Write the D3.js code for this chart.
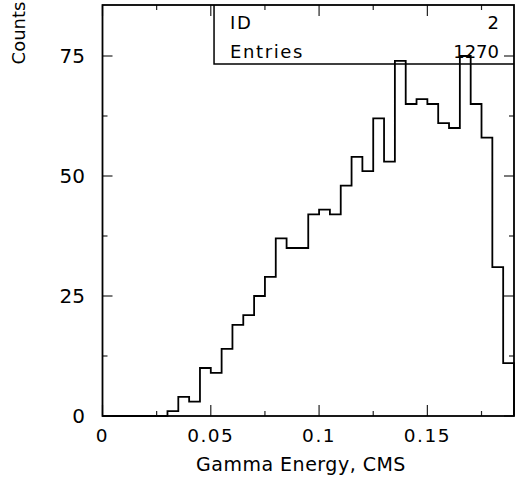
<!DOCTYPE html>
<html>
<head>
<meta charset="utf-8">
<script src="https://cdn.jsdelivr.net/npm/d3@7"></script>
<style>
  html, body { margin: 0; padding: 0; background: #fff; }
  svg { display: block; }
  text { font-family: "DejaVu Sans", "Liberation Sans", sans-serif; fill: #000; }
</style>
</head>
<body>
<svg id="chart" width="520" height="484"></svg>
<script>
// ---- data ----
const binStart = 0.0;
const binWidth = 0.005;
const counts = [0, 0, 0, 0, 0, 0,
  1, 4, 3, 10, 9, 14, 19, 21, 25, 29,
  37, 35, 35, 42, 43, 42, 48, 54, 51, 62,
  53, 74, 65, 66, 65, 61, 60, 75, 65, 58,
  31, 11];
const xTicksMajor = [0, 0.05, 0.1, 0.15];
const xTickLabels = ["0", "0.05", "0.1", "0.15"];
const xTicksMinor = [0.025, 0.075, 0.125, 0.175];
const yTicksMajor = [0, 25, 50, 75];
const yTickLabels = ["0", "25", "50", "75"];
const yTicksMinor = [12.5, 37.5, 62.5];
const xTitle = "Gamma Energy, CMS";
const yTitle = "Counts";
const statsLabels = ["ID", "Entries"];
const statsValues = ["2", "1270"];

// ---- layout ----
const pL = 102.5, pR = 514, pT = 5, pB = 416;
const svg = d3.select("#chart");

const x = d3.scaleLinear().domain([0, 0.19]).range([pL, pR]);
const y = d3.scaleLinear().domain([0, 85.625]).range([pB, pT]);

// histogram outline
const pts = [];
counts.forEach((c, i) => {
  const x0 = binStart + i * binWidth, x1 = x0 + binWidth;
  pts.push([x0, c]);
  pts.push([x1, c]);
});
pts.push([binStart + counts.length * binWidth, 0]);
const line = d3.line().x(d => x(d[0])).y(d => y(d[1]));
svg.append("path").attr("d", line(pts))
  .attr("fill", "none").attr("stroke", "#000").attr("stroke-width", 1.8)
  .attr("stroke-linejoin", "miter");

// ticks
const tg = svg.append("g").attr("stroke", "#222").attr("stroke-width", 1.2);
function xt(v, len) {
  tg.append("line").attr("x1", x(v)).attr("x2", x(v)).attr("y1", pB).attr("y2", pB - len);
  tg.append("line").attr("x1", x(v)).attr("x2", x(v)).attr("y1", pT).attr("y2", pT + len);
}
function yt(v, len) {
  tg.append("line").attr("x1", pL).attr("x2", pL + len).attr("y1", y(v)).attr("y2", y(v));
  tg.append("line").attr("x1", pR).attr("x2", pR - len).attr("y1", y(v)).attr("y2", y(v));
}
xTicksMajor.forEach(v => xt(v, 11));
xTicksMinor.forEach(v => xt(v, 5));
yTicksMajor.forEach(v => yt(v, 10));
yTicksMinor.forEach(v => yt(v, 5));

// frame
svg.append("rect").attr("x", pL).attr("y", pT)
  .attr("width", pR - pL).attr("height", pB - pT)
  .attr("fill", "none").attr("stroke", "#000").attr("stroke-width", 1.8);

// tick labels
svg.append("g").selectAll("text").data(xTicksMajor).join("text")
  .attr("x", d => x(d)).attr("y", 441.5)
  .attr("text-anchor", "middle")
  .style("font-size", "18.5px").style("letter-spacing", "1.5px")
  .text((d, i) => xTickLabels[i]);
svg.append("g").selectAll("text").data(yTicksMajor).join("text")
  .attr("x", 85).attr("y", d => y(d) + 7)
  .attr("text-anchor", "end")
  .style("font-size", "20px")
  .text((d, i) => yTickLabels[i]);

// axis titles
svg.append("text").attr("x", 301).attr("y", 471)
  .attr("text-anchor", "middle").style("font-size", "19px").style("letter-spacing", "0.5px")
  .text(xTitle);
svg.append("text").attr("transform", "translate(25,33) rotate(-90)")
  .attr("text-anchor", "middle").style("font-size", "18px")
  .text(yTitle);

// stats box
const boxX = x(0.0515);
svg.append("path")
  .attr("d", `M${boxX},${pT}V64H${pR}`)
  .attr("fill", "none").attr("stroke", "#000").attr("stroke-width", 1.5);
statsLabels.forEach((s, i) => {
  svg.append("text").attr("x", 230).attr("y", 28.5 + i * 29.5)
    .style("font-size", "18px").style("letter-spacing", "1.6px").text(s);
  svg.append("text").attr("x", 499).attr("y", 28.5 + i * 29.5)
    .attr("text-anchor", "end").style("font-size", "18px").text(statsValues[i]);
});
</script>
</body>
</html>
